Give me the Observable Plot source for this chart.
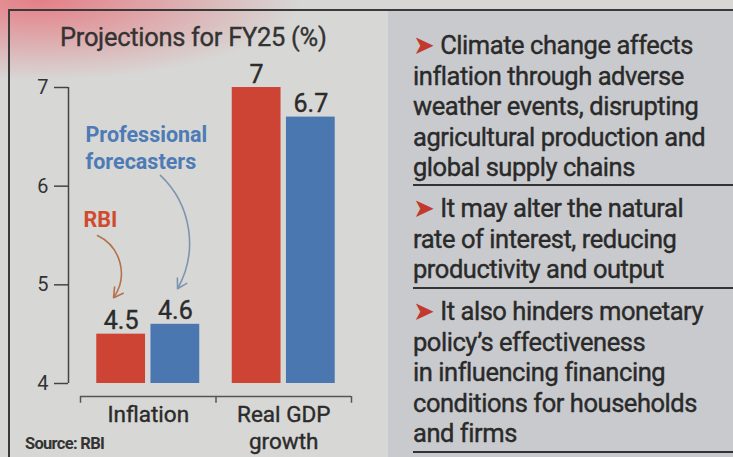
<!DOCTYPE html>
<html>
<head>
<meta charset="utf-8">
<script src="https://cdn.jsdelivr.net/npm/d3@7"></script>
<script src="https://cdn.jsdelivr.net/npm/@observablehq/plot@0.6"></script>
<style>
  html, body { margin: 0; padding: 0; }
  body { width: 733px; height: 457px; overflow: hidden; position: relative;
    background: #d7d7d5; font-family: Roboto, "Noto Sans", sans-serif; color: #2b2b2b; }
  #blush { position: absolute; left: 0; top: 0; width: 733px; height: 457px;
    background: radial-gradient(ellipse 260px 80px at 40px 0px, rgba(232,105,115,0.8), rgba(232,110,120,0) 100%); }
  #topline { position: absolute; left: 9px; top: 9px; width: 724px; height: 2px; background: #3a3a3a; }
  #leftline { position: absolute; left: 8px; top: 9px; width: 2px; height: 448px; background: #3a3a3a; }
  #panel { position: absolute; left: 388px; top: 11px; width: 345px; height: 446px; background: #c9cacd; }
  #chart { position: absolute; left: 0; top: 0; }
  #title { position: absolute; left: 60px; top: 21px; font-size: 25.5px; line-height: 32px; color: #333; letter-spacing: -0.3px; -webkit-text-stroke: 0.35px #333; }
  #source { position: absolute; left: 25px; top: 433px; font-size: 16.5px; line-height: 22px; font-weight: bold; color: #333; letter-spacing: -0.7px; }
  .block { position: absolute; left: 413px; font-size: 25.5px; line-height: 30.5px; color: #2a2a2a; letter-spacing: -0.45px; white-space: nowrap; -webkit-text-stroke: 0.4px #2a2a2a; }
  .mark { color: #c2392d; font-size: 26px; font-family: "DejaVu Sans", sans-serif; -webkit-text-stroke: 0; }
  .rule { position: absolute; left: 413px; width: 320px; height: 2px; background: #333; }
</style>
</head>
<body>
<div id="blush"></div>
<div id="panel"></div>
<div id="topline"></div>
<div id="leftline"></div>
<div id="chart"></div>
<div id="title">Projections for FY25 (%)</div>
<div id="source">Source: RBI</div>
<div class="block" style="top:30px"><span class="mark">➤</span> Climate change affects<br>inflation through adverse<br>weather events, disrupting<br>agricultural production and<br>global supply chains</div>
<div class="rule" style="top:184px"></div>
<div class="block" style="top:193px"><span class="mark">➤</span> It may alter the natural<br>rate of interest, reducing<br>productivity and output</div>
<div class="rule" style="top:287px"></div>
<div class="block" style="top:296px"><span class="mark">➤</span> It also hinders monetary<br>policy’s effectiveness<br>in influencing financing<br>conditions for households<br>and firms</div>
<div class="rule" style="top:451px"></div>
<script>
// ---- data ----
const categories = ["Inflation", "Real GDP\ngrowth"];
const seriesNames = ["RBI", "Professional forecasters"];
const rbiValues = [4.5, 7];
const forecasterValues = [4.6, 6.7];
const yTicks = [4, 5, 6, 7];

const colors = { "RBI": "#cd4434", "Professional forecasters": "#4a77b0" };

// rows for the marks
const rows = [];
categories.forEach((c, i) => {
  rows.push({ cat: i, series: seriesNames[0], value: rbiValues[i] });
  rows.push({ cat: i, series: seriesNames[1], value: forecasterValues[i] });
});
const catRows = categories.map((label, i) => ({ cat: i, label }));

// bar geometry within a group (in group units)
const barW = 0.36, gap = 0.04;
const left = d => d.series === seriesNames[0] ? d.cat - gap / 2 - barW : d.cat + gap / 2;
const center = d => left(d) + barW / 2;

// annotations (data coordinates)
const notes = [
  { x: -0.478, y: 5.67, text: "RBI", color: "#cf4a2e" },
  { x: -0.463, y: 6.40, text: "Professional\nforecasters", color: "#4d7bb5" }
];
const rbiArrow = [{ x1: -0.375, y1: 5.50, x2: -0.256, y2: 4.87 }];
const forecasterArrow = [{ x1: 0.090, y1: 6.11, x2: 0.216, y2: 4.96 }];

const textStroke = { stroke: "#2b2b2b", strokeWidth: 0.4 };

const chart = Plot.plot({
  width: 388,
  height: 457,
  marginLeft: 68,
  marginRight: 37,
  marginTop: 87,
  marginBottom: 74,
  style: { background: "transparent", fontFamily: "Roboto, 'Noto Sans', sans-serif", color: "#333" },
  x: { domain: [-0.5, 1.5], range: [80, 351], axis: null },
  y: { domain: [4, 7], axis: null },
  marks: [
    Plot.axisY({ ticks: yTicks, tickFormat: d => String(d), tickSize: 14, tickPadding: 6, fontSize: 20, stroke: "#444", strokeWidth: 1.5 }),
    Plot.ruleX([-0.5], { y1: 4, y2: 7, dx: -12, stroke: "#444", strokeWidth: 1.5 }),
    Plot.rectY(rows, { x1: left, x2: d => left(d) + barW, y1: 4, y2: "value", fill: d => colors[d.series] }),
    Plot.text(rows, { x: center, y: "value", text: d => String(d.value), dy: -5, lineAnchor: "bottom", fontSize: 25, fill: "#2b2b2b", ...textStroke }),
    // bracket axis under the categories
    Plot.ruleY([3.868], { x1: -0.5, x2: 1.5, stroke: "#555", strokeWidth: 1.5 }),
    Plot.ruleX([-0.5, 0.5, 1.5], { y1: 3.868, y2: 3.80, stroke: "#555", strokeWidth: 1.5 }),
    Plot.text(catRows, { x: "cat", y: 4, text: "label", dy: 19, lineAnchor: "top", lineHeight: 1.2, fontSize: 22.5, fill: "#2b2b2b", ...textStroke }),
    // annotations
    Plot.text(notes, { x: "x", y: "y", text: "text", fill: "color", textAnchor: "start", fontWeight: "bold", fontSize: 21.5, lineHeight: 1.25, letterSpacing: "-0.6px" }),
    Plot.arrow(rbiArrow, { x1: "x1", y1: "y1", x2: "x2", y2: "y2", stroke: "#b5714c", bend: 50, strokeWidth: 1.6, headLength: 10 }),
    Plot.arrow(forecasterArrow, { x1: "x1", y1: "y1", x2: "x2", y2: "y2", stroke: "#7d95b0", bend: 38, strokeWidth: 1.6, headLength: 10 })
  ]
});
document.getElementById("chart").appendChild(chart);
</script>
</body>
</html>
